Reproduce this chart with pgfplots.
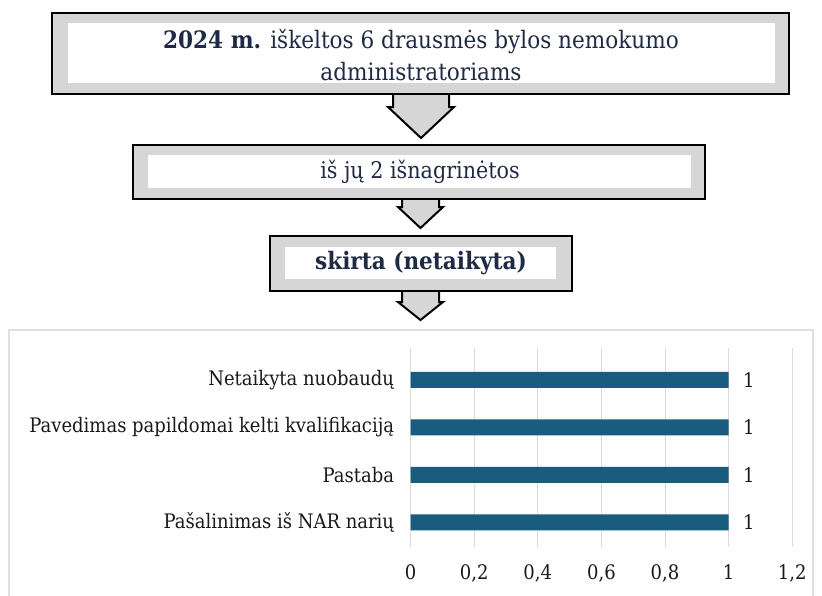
\documentclass[border=0pt]{standalone}
\usepackage{fontspec}
\setmainfont{DejaVu Serif Condensed}
\usepackage{pgfplots}
\pgfplotsset{compat=1.18}
\definecolor{barblue}{HTML}{1A5C80}
\definecolor{navy}{HTML}{1F2B45}
\definecolor{boxgray}{HTML}{D6D6D6}
\newcommand{\boxfont}{\fontsize{24}{32}\selectfont}
\newcommand{\lblfont}{\fontsize{20}{23}\selectfont}

\begin{document}
\begin{tikzpicture}
\useasboundingbox (0,0) rectangle (822pt,-595pt);
\fill[white] (0,0) rectangle (822pt,-595pt);

% ===== flow diagram (pixel units, y down) ====================================
\begin{scope}[x=1pt,y=-1pt]
  % arrows first, boxes cover their tops
  \draw[line width=2pt, fill=boxgray, line join=miter]
    (393,92) -- (393,107) -- (388,107) -- (421,138) -- (454,107) -- (449,107) -- (449,92);
  \draw[line width=2pt, fill=boxgray, line join=miter]
    (402,197) -- (402,207) -- (398,207) -- (420.5,228) -- (443,207) -- (439,207) -- (439,197);
  \draw[line width=2pt, fill=boxgray, line join=miter]
    (402,289) -- (402,302) -- (398,302) -- (420.5,320) -- (443,302) -- (439,302) -- (439,289);

  % box 1
  \draw[line width=2pt, fill=boxgray] (52,13) rectangle (789,94);
  \fill[white] (68,23) rectangle (775,83);
  \node[text=navy, font=\boxfont, align=center] at (421,55)
    {\textbf{2024 m.} iškeltos 6 drausmės bylos nemokumo\\administratoriams};
  % box 2
  \draw[line width=2pt, fill=boxgray] (133,145) rectangle (705,199);
  \fill[white] (148,155) rectangle (691,188);
  \node[text=navy, font=\fontsize{23}{27}\selectfont] at (420,172) {iš jų 2 išnagrinėtos};
  % box 3
  \draw[line width=2pt, fill=boxgray] (270,236) rectangle (572,291);
  \fill[white] (285,247) rectangle (556,279);
  \node[text=navy, font=\boxfont] at (421,263) {\textbf{skirta (netaikyta)}};

  % chart frame
  \draw[black!12, line width=1.2pt] (9,330) rectangle (813,600);
\end{scope}

% ===== bar chart =============================================================
\begin{axis}[
  at={(410.6pt,-547pt)}, anchor=south west,
  scale only axis,
  width=381.6pt, height=199pt,
  xbar,
  bar width=16pt,
  xmin=0, xmax=1.2,
  ymin=-0.52, ymax=3.67,
  xtick={0,0.2,0.4,0.6,0.8,1,1.2},
  ytick={0,1,2,3},
  yticklabels={Pašalinimas iš NAR narių, Pastaba,
               Pavedimas papildomai kelti kvalifikaciją, Netaikyta nuobaudų},
  xmajorgrids,
  grid style={black!14, line width=0.8pt},
  axis line style={draw=none},
  major tick length=0pt,
  tick label style={font=\lblfont, text=black!90},
  xticklabel style={yshift=-14pt},
  yticklabel style={xshift=-13pt},
  /pgf/number format/use comma,
  /pgf/number format/assume math mode=true,
  nodes near coords,
  nodes near coords style={font=\lblfont, text=black!90, anchor=west, xshift=11pt},
  clip=false,
]
  \addplot[fill=barblue, draw=none] coordinates {(1,0) (1,1) (1,2) (1,3)};
\end{axis}
\end{tikzpicture}
\end{document}
